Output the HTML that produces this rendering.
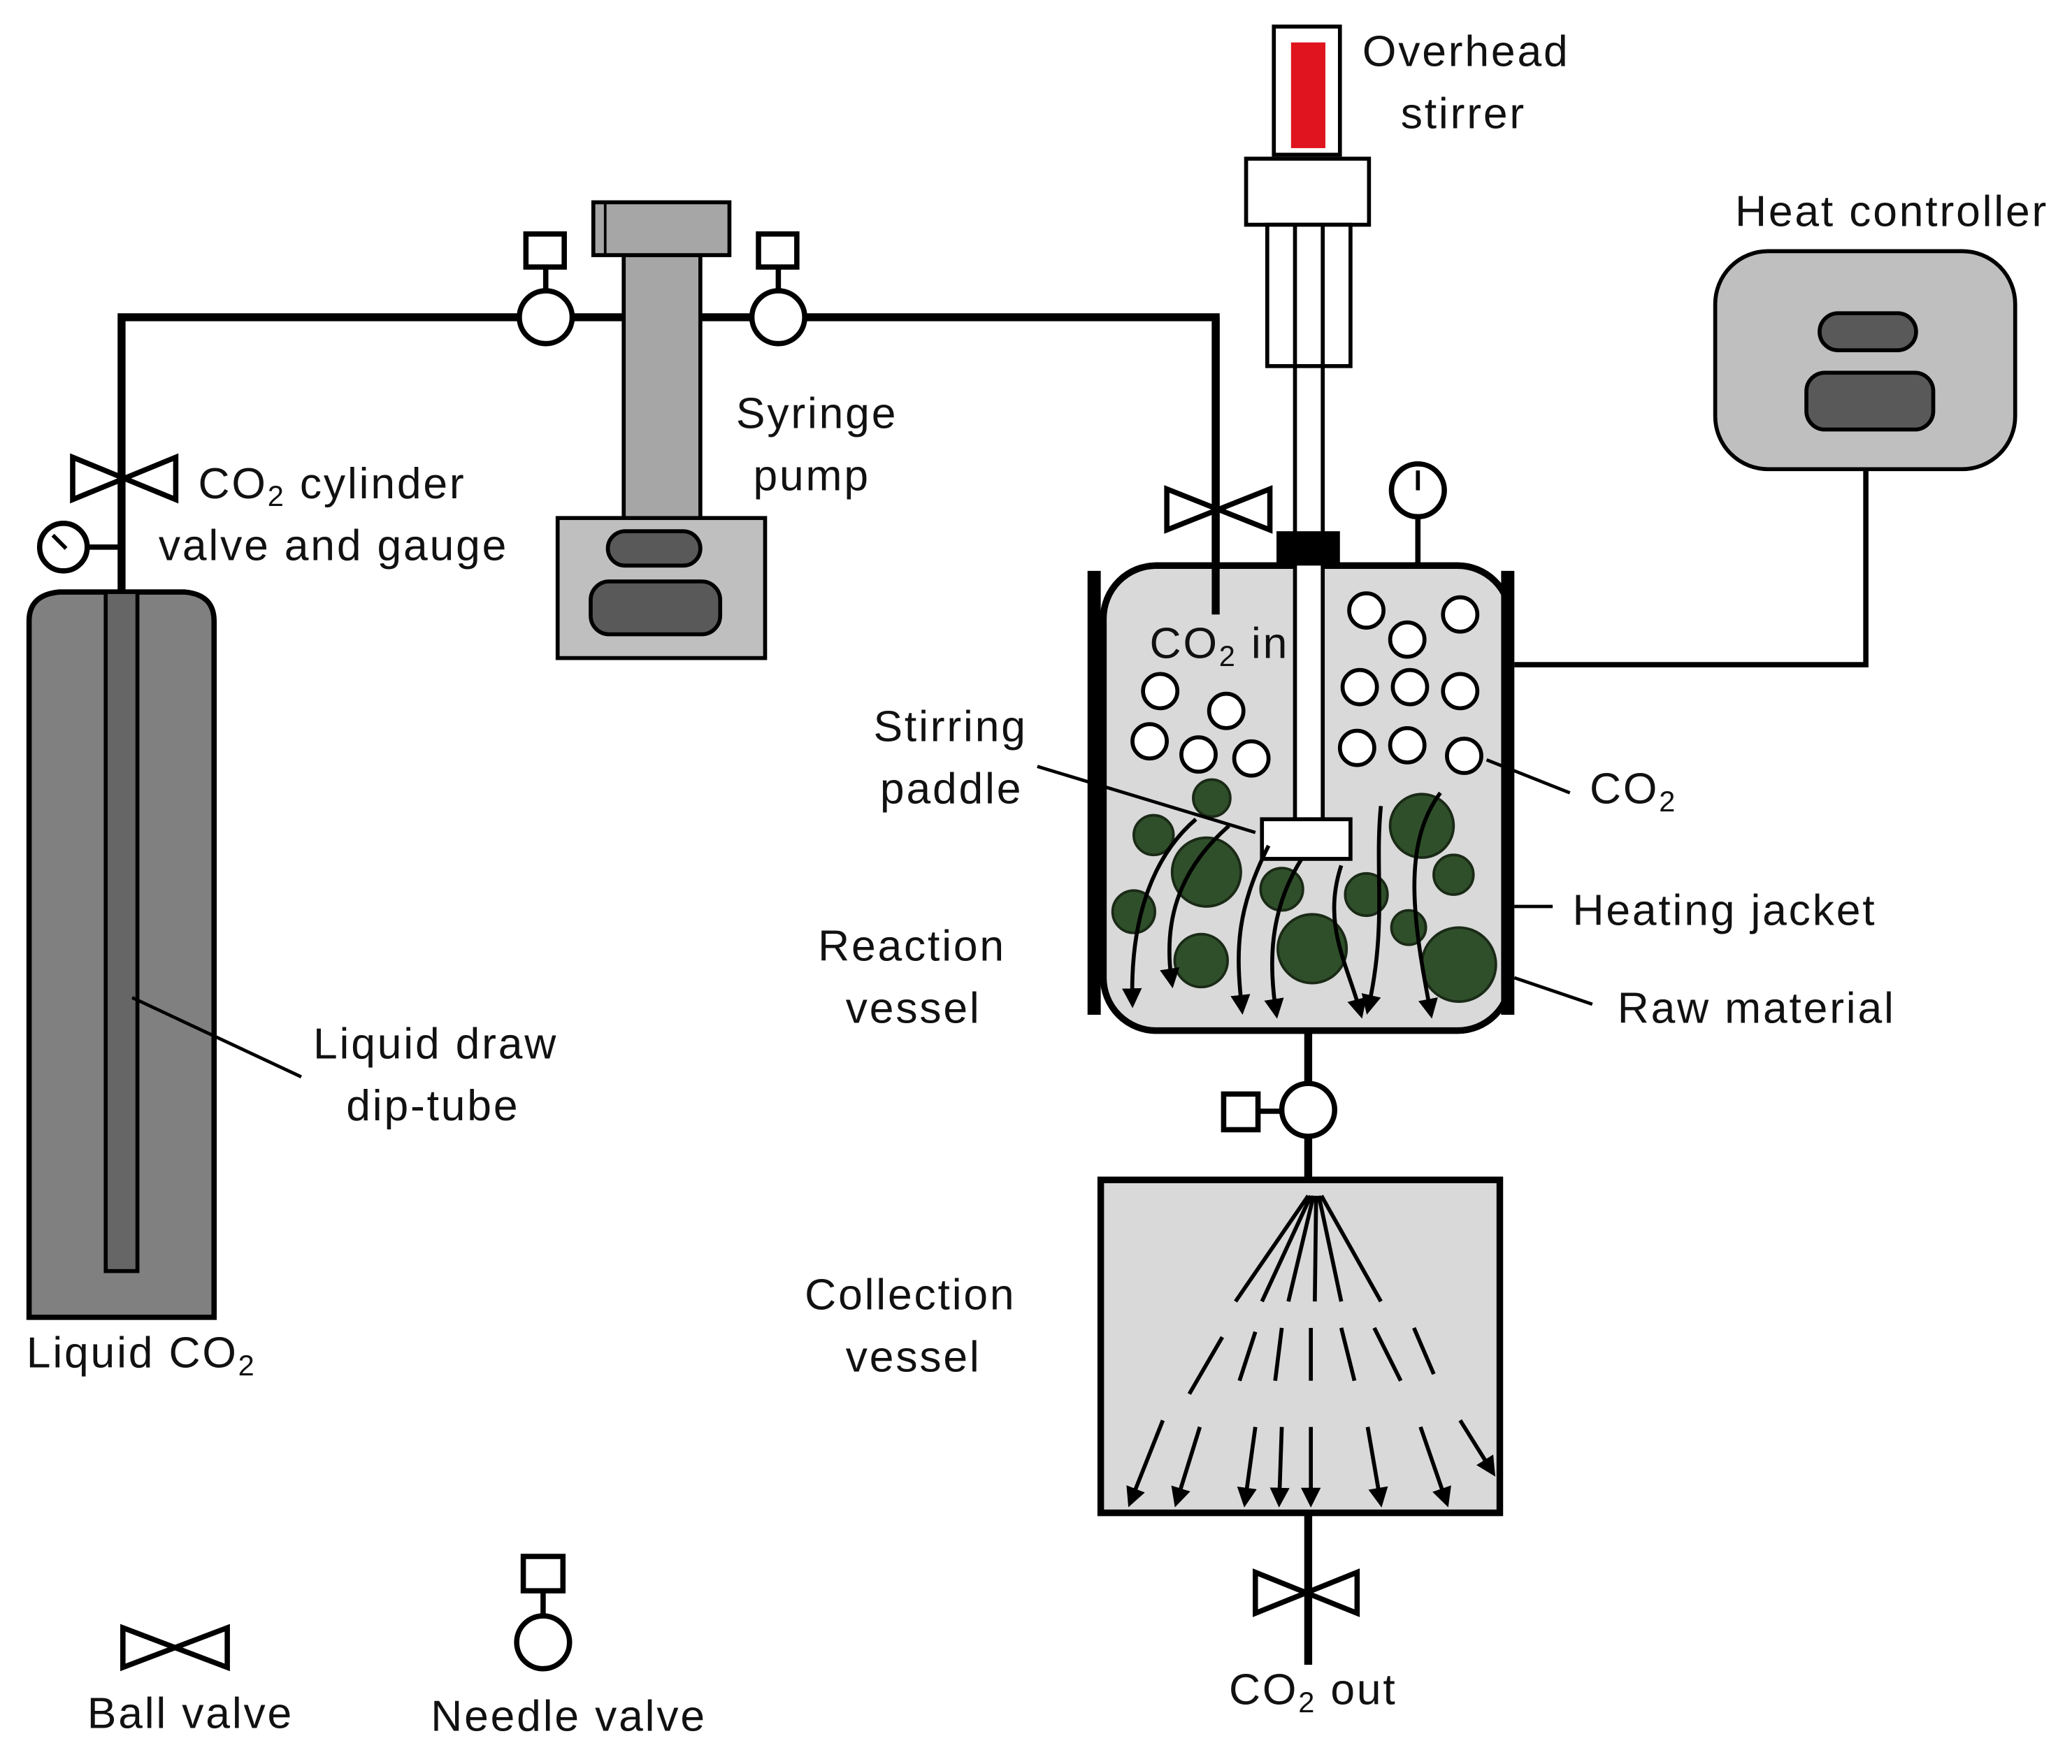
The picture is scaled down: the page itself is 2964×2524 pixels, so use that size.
<!DOCTYPE html>
<html><head><meta charset="utf-8"><style>
html,body{margin:0;padding:0;background:#fff}
svg{display:block}
text{font-family:"Liberation Sans",sans-serif;font-size:33px;letter-spacing:1.5px;fill:#111}
</style></head><body>
<svg width="2964" height="2524" viewBox="0 0 1568 1335" xmlns="http://www.w3.org/2000/svg">
<rect width="1568" height="1335" fill="#fff"/>
<defs>
<marker id="ah" viewBox="0 0 10 10" refX="8" refY="5" markerWidth="5" markerHeight="5" orient="auto"><path d="M0,0 L10,5 L0,10 z" fill="#000"/></marker>
</defs>
<path d="M22,997 L22,470 Q22,450 45,448 L140,448 Q162,450 162,470 L162,997 Z" fill="#808080" stroke="#000" stroke-width="4"/>
<rect x="80" y="448" width="24" height="514" fill="#666" stroke="#000" stroke-width="3"/>
<polyline points="92,448 92,240 920,240 920,465" fill="none" stroke="#000" stroke-width="6"/>
<path d="M55,346 L55,378 L133,346 L133,378 Z" fill="#fff" stroke="#000" stroke-width="4"/>
<line x1="66" y1="414" x2="92" y2="414" stroke="#000" stroke-width="4"/>
<circle cx="48" cy="414" r="18" fill="#fff" stroke="#000" stroke-width="4"/>
<line x1="40" y1="405" x2="50" y2="415" stroke="#000" stroke-width="3"/>
<rect x="472" y="193" width="58" height="200" fill="#a6a6a6" stroke="#000" stroke-width="3"/>
<rect x="449" y="153" width="103" height="40" fill="#a6a6a6" stroke="#000" stroke-width="3"/>
<line x1="458" y1="153" x2="458" y2="193" stroke="#000" stroke-width="2"/>
<rect x="422" y="392" width="157" height="106" fill="#bfbfbf" stroke="#000" stroke-width="3"/>
<rect x="460" y="402" width="70" height="26" rx="13" fill="#595959" stroke="#000" stroke-width="3"/>
<rect x="447" y="440" width="98" height="40" rx="14" fill="#595959" stroke="#000" stroke-width="3"/>
<g stroke="#000" stroke-width="4" fill="#fff">
<line x1="413" y1="202" x2="413" y2="220"/><rect x="398" y="177" width="29" height="25"/><circle cx="413" cy="240" r="20"/>
<line x1="589" y1="202" x2="589" y2="220"/><rect x="574" y="177" width="29" height="25"/><circle cx="589" cy="240" r="20"/>
</g>
<rect x="964" y="20" width="50" height="97" fill="#fff" stroke="#000" stroke-width="3"/>
<rect x="977" y="32" width="26" height="80" fill="#e0141e"/>
<rect x="943" y="120" width="93" height="50" fill="#fff" stroke="#000" stroke-width="3"/>
<rect x="959" y="170" width="63" height="107" fill="#fff" stroke="#000" stroke-width="3"/>
<line x1="980" y1="170" x2="980" y2="277" stroke="#000" stroke-width="3"/>
<line x1="1001" y1="170" x2="1001" y2="277" stroke="#000" stroke-width="3"/>
<rect x="835" y="428" width="308" height="352" rx="40" fill="#d9d9d9" stroke="#000" stroke-width="5"/>
<rect x="823" y="432" width="10" height="336" fill="#000"/>
<rect x="1136" y="432" width="10" height="336" fill="#000"/>
<rect x="980" y="277" width="21" height="345" fill="#fff" stroke="#000" stroke-width="3"/>
<rect x="966" y="402" width="48" height="26" fill="#000"/>
<rect x="955" y="620" width="67" height="30" fill="#fff" stroke="#000" stroke-width="3"/>
<line x1="920" y1="240" x2="920" y2="465" stroke="#000" stroke-width="6"/>
<path d="M883,370 L883,401 L961,370 L961,401 Z" fill="#fff" stroke="#000" stroke-width="4"/>
<line x1="1073" y1="391" x2="1073" y2="428" stroke="#000" stroke-width="4"/>
<circle cx="1073" cy="371" r="20" fill="#fff" stroke="#000" stroke-width="4"/>
<line x1="1073" y1="371" x2="1073" y2="356" stroke="#000" stroke-width="3"/>
<g fill="#fff" stroke="#000" stroke-width="3">
<circle cx="1034" cy="462" r="13"/><circle cx="1105" cy="465" r="13"/><circle cx="1065" cy="484" r="13"/>
<circle cx="1029" cy="520" r="13"/><circle cx="1067" cy="520" r="13"/><circle cx="1105" cy="523" r="13"/>
<circle cx="1027" cy="566" r="13"/><circle cx="1065" cy="564" r="13"/><circle cx="1108" cy="572" r="13"/>
<circle cx="878" cy="523" r="13"/><circle cx="928" cy="538" r="13"/><circle cx="870" cy="561" r="13"/>
<circle cx="907" cy="571" r="13"/><circle cx="947" cy="574" r="13"/>
</g>
<g fill="#2f4f2a" stroke="#1a2a16" stroke-width="2">
<circle cx="917" cy="604" r="14"/><circle cx="873" cy="632" r="15"/><circle cx="913" cy="660" r="26"/>
<circle cx="858" cy="690" r="16"/><circle cx="909" cy="727" r="20"/><circle cx="970" cy="673" r="16"/>
<circle cx="993" cy="718" r="26"/><circle cx="1034" cy="677" r="16"/><circle cx="1076" cy="625" r="24"/>
<circle cx="1100" cy="662" r="15"/><circle cx="1066" cy="702" r="13"/><circle cx="1104" cy="730" r="28"/>
</g>
<g fill="none" stroke="#000" stroke-width="3" marker-end="url(#ah)">
<path d="M905,620 C870,650 855,700 857,760"/>
<path d="M930,625 C890,660 880,700 887,745"/>
<path d="M960,640 C935,690 935,720 940,765"/>
<path d="M985,650 C960,690 960,730 966,768"/>
<path d="M1015,655 C1000,700 1020,730 1030,768"/>
<path d="M1045,610 C1040,660 1050,700 1035,765"/>
<path d="M1090,600 C1060,640 1070,700 1083,768"/>
</g>
<line x1="990" y1="780" x2="990" y2="893" stroke="#000" stroke-width="6"/>
<line x1="952" y1="841" x2="970" y2="841" stroke="#000" stroke-width="4"/>
<rect x="926" y="828" width="26" height="27" fill="#fff" stroke="#000" stroke-width="4"/>
<circle cx="990" cy="840" r="20" fill="#fff" stroke="#000" stroke-width="4"/>
<rect x="833" y="893" width="302" height="252" fill="#d9d9d9" stroke="#000" stroke-width="5"/>
<g stroke="#000" stroke-width="3">
<line x1="990" y1="905" x2="935" y2="985"/><line x1="992" y1="905" x2="955" y2="985"/><line x1="994" y1="905" x2="975" y2="985"/>
<line x1="996" y1="905" x2="995" y2="985"/><line x1="998" y1="905" x2="1015" y2="985"/><line x1="1000" y1="905" x2="1045" y2="985"/>
<line x1="925" y1="1012" x2="900" y2="1055"/><line x1="950" y1="1008" x2="938" y2="1045"/><line x1="970" y1="1005" x2="965" y2="1045"/>
<line x1="992" y1="1005" x2="992" y2="1045"/><line x1="1015" y1="1005" x2="1025" y2="1045"/><line x1="1040" y1="1005" x2="1060" y2="1045"/>
<line x1="1070" y1="1005" x2="1085" y2="1040"/>
</g>
<g stroke="#000" stroke-width="3" marker-end="url(#ah)">
<line x1="880" y1="1075" x2="855" y2="1138"/><line x1="908" y1="1080" x2="890" y2="1138"/>
<line x1="950" y1="1080" x2="942" y2="1138"/><line x1="970" y1="1080" x2="968" y2="1138"/>
<line x1="992" y1="1080" x2="992" y2="1138"/><line x1="1035" y1="1080" x2="1045" y2="1138"/>
<line x1="1075" y1="1080" x2="1095" y2="1138"/><line x1="1105" y1="1075" x2="1130" y2="1115"/>
</g>
<line x1="990" y1="1145" x2="990" y2="1260" stroke="#000" stroke-width="6"/>
<path d="M950,1190 L950,1221 L1027,1190 L1027,1221 Z" fill="#fff" stroke="#000" stroke-width="4"/>
<rect x="1298" y="190" width="227" height="165" rx="40" fill="#bfbfbf" stroke="#000" stroke-width="3"/>
<rect x="1377" y="237" width="73" height="28" rx="14" fill="#595959" stroke="#000" stroke-width="3"/>
<rect x="1367" y="282" width="96" height="43" rx="14" fill="#595959" stroke="#000" stroke-width="3"/>
<polyline points="1412,355 1412,503 1146,503" fill="none" stroke="#000" stroke-width="4"/>
<g stroke="#000" stroke-width="2.5">
<line x1="100" y1="755" x2="228" y2="815"/>
<line x1="785" y1="580" x2="950" y2="630"/>
<line x1="1125" y1="575" x2="1188" y2="600"/>
<line x1="1146" y1="686" x2="1175" y2="686"/>
<line x1="1146" y1="740" x2="1205" y2="760"/>
</g>
<path d="M93,1232 L93,1262 L172,1232 L172,1262 Z" fill="#fff" stroke="#000" stroke-width="4"/>
<line x1="411" y1="1204" x2="411" y2="1223" stroke="#000" stroke-width="4"/>
<rect x="396" y="1178" width="30" height="26" fill="#fff" stroke="#000" stroke-width="4"/>
<circle cx="411" cy="1243" r="20" fill="#fff" stroke="#000" stroke-width="4"/>
<text x="1031" y="50">Overhead</text>
<text x="1060" y="97">stirrer</text>
<text x="1313" y="171">Heat controller</text>
<text x="557" y="324">Syringe</text>
<text x="570" y="371">pump</text>
<text x="150" y="377">CO<tspan font-size="22" dy="6">2</tspan><tspan dy="-6"> cylinder</tspan></text>
<text x="120" y="424">valve and gauge</text>
<text x="870" y="498">CO<tspan font-size="22" dy="6">2</tspan><tspan dy="-6"> in</tspan></text>
<text x="661" y="561">Stirring</text>
<text x="666" y="608">paddle</text>
<text x="1203" y="608">CO<tspan font-size="22" dy="6">2</tspan></text>
<text x="1190" y="700">Heating jacket</text>
<text x="619" y="727">Reaction</text>
<text x="640" y="774">vessel</text>
<text x="1224" y="774">Raw material</text>
<text x="237" y="801">Liquid draw</text>
<text x="262" y="848">dip-tube</text>
<text x="609" y="991">Collection</text>
<text x="640" y="1038">vessel</text>
<text x="20" y="1035">Liquid CO<tspan font-size="22" dy="6">2</tspan></text>
<text x="930" y="1290">CO<tspan font-size="22" dy="6">2</tspan><tspan dy="-6"> out</tspan></text>
<text x="66" y="1308">Ball valve</text>
<text x="326" y="1310">Needle valve</text>
</svg>
</body></html>
